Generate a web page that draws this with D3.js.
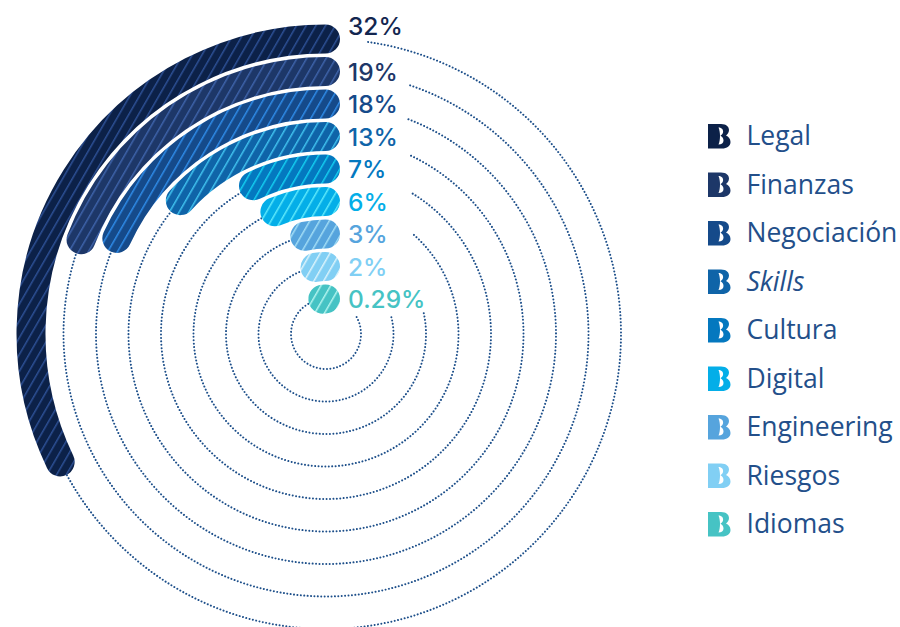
<!DOCTYPE html>
<html>
<head>
<meta charset="utf-8">
<script src="https://cdn.jsdelivr.net/npm/d3@7"></script>
<style>
  html, body { margin: 0; padding: 0; background: #fff; }
  svg { display: block; }
</style>
</head>
<body>
<div id="chart"></div>
<script>
// data
var categories = ["Legal", "Finanzas", "Negociación", "Skills", "Cultura", "Digital", "Engineering", "Riesgos", "Idiomas"];
var shares = [32, 19, 18, 13, 7, 6, 3, 2, 0.29];
var shareLabels = ["32%", "19%", "18%", "13%", "7%", "6%", "3%", "2%", "0.29%"];
var barColors = ["#0c2148", "#1d3768", "#154a8a", "#0f64a8", "#0478bf", "#04aee8", "#56a4dd", "#81cff4", "#46c3c4"];
var hatchColors = ["#2c4f93", "#3d62a8", "#2e8ae6", "#3fc0ee", "#13cdf0", "#5be8fb", "#a0dcf5", "#d9f3fc", "#b0f3ee"];
var labelColors = ["#13264f", "#1d3768", "#154a8a", "#0f64a8", "#0478bf", "#04aee8", "#56a4dd", "#81cff4", "#46c3c4"];
// where each dotted ring picks up again, degrees clockwise from 12 o'clock
var ringStarts = [8.2, 18.7, 21, 25.5, 31.7, 41.6, 78, 75.6, 61];

var svgWidth = 900;
var svgHeight = 627;
var cx = 326;
var cy = 334;
var barWidth = 29;
var capExtra = 2.5; // bars run a touch past their value in the original, px along the arc

var svg = d3.select("#chart")
    .append("svg")
    .attr("width", svgWidth)
    .attr("height", svgHeight);

// outer ring first, one band per category
var radius = d3.scalePoint()
    .domain(categories)
    .range([295, 35]);

// a whole turn is 100%, the bars run counter clockwise from the top
var angle = d3.scaleLinear()
    .domain([0, 100])
    .range([0, 2 * Math.PI]);

function arcPath(r, from, to, ccw) {
    var p = d3.path();
    p.arc(cx, cy, r, from - Math.PI / 2, to - Math.PI / 2, ccw);
    return p.toString();
}

// one hatch pattern per colour
var defs = svg.append("defs");
categories.forEach(function(c, i) {
    var pattern = defs.append("pattern")
        .attr("id", "hatch" + i)
        .attr("patternUnits", "userSpaceOnUse")
        .attr("width", 8.4)
        .attr("height", 8.4)
        .attr("patternTransform", "rotate(30)");
    pattern.append("rect")
        .attr("width", 8.4)
        .attr("height", 8.4)
        .attr("fill", barColors[i]);
    pattern.append("rect")
        .attr("width", 1.5)
        .attr("height", 8.4)
        .attr("fill", hatchColors[i]);
});

// dotted rings
svg.append("g").selectAll("path")
    .data(categories)
    .enter()
    .append("path")
    .attr("d", function(d, i) {
        return arcPath(radius(d), ringStarts[i] * Math.PI / 180, 2 * Math.PI - angle(shares[i]), false);
    })
    .attr("fill", "none")
    .attr("stroke", "#1d4f8a")
    .attr("stroke-width", 2)
    .attr("stroke-linecap", "round")
    .attr("stroke-dasharray", "0.01 3.4");

// bars
svg.append("g").selectAll("path")
    .data(categories)
    .enter()
    .append("path")
    .attr("d", function(d, i) {
        var r = radius(d);
        return arcPath(r, -0.5 / r, -angle(shares[i]) - capExtra / r, true);
    })
    .attr("fill", "none")
    .attr("stroke", function(d, i) { return "url(#hatch" + i + ")"; })
    .attr("stroke-width", barWidth)
    .attr("stroke-linecap", "round");

// value labels, the top one sits above its bar so the next one fits
svg.append("g").selectAll("text")
    .data(categories)
    .enter()
    .append("text")
    .attr("x", 348)
    .attr("y", function(d, i) { return cy - radius(d) + (i === 0 ? -13 : 0.8); })
    .attr("dy", "0.35em")
    .attr("font-family", "Inter")
    .attr("font-weight", 500)
    .attr("font-size", 24.5)
    .attr("fill", function(d, i) { return labelColors[i]; })
    .text(function(d, i) { return shareLabels[i]; });

// legend
var legendY = d3.scalePoint()
    .domain(categories)
    .range([136, 524]);

var legend = svg.append("g").selectAll("g")
    .data(categories)
    .enter()
    .append("g")
    .attr("transform", function(d) { return "translate(708," + legendY(d) + ")"; });

// the little B mark
legend.append("path")
    .attr("d", "M0,-12 H13 C18.5,-12 21,-9 21,-6 C21,-3.5 19.5,-1.5 18,-0.5 C20.5,0.5 22.5,3 22.5,6 C22.5,10 19,12.5 14,12.5 H0 Z M10.5,-8.5 C14,-8.5 15.5,-6 15,-3.5 C14.7,-2 13.5,-1 12.5,-0.3 C14,0.5 15.5,2 15.5,4.5 C15.5,7 13.5,8.5 10.5,8.5 C12.5,4 12.5,-4 10.5,-8.5 Z")
    .attr("fill-rule", "evenodd")
    .attr("fill", function(d, i) { return barColors[i]; });

legend.append("text")
    .attr("x", 38.5)
    .attr("dy", "0.35em")
    .attr("font-family", "Open Sans")
    .attr("font-weight", 400)
    .attr("font-size", 26.5)
    .attr("font-style", function(d) { return d === "Skills" ? "italic" : "normal"; })
    .attr("fill", "#234f8a")
    .text(function(d) { return d; });
</script>
</body>
</html>
